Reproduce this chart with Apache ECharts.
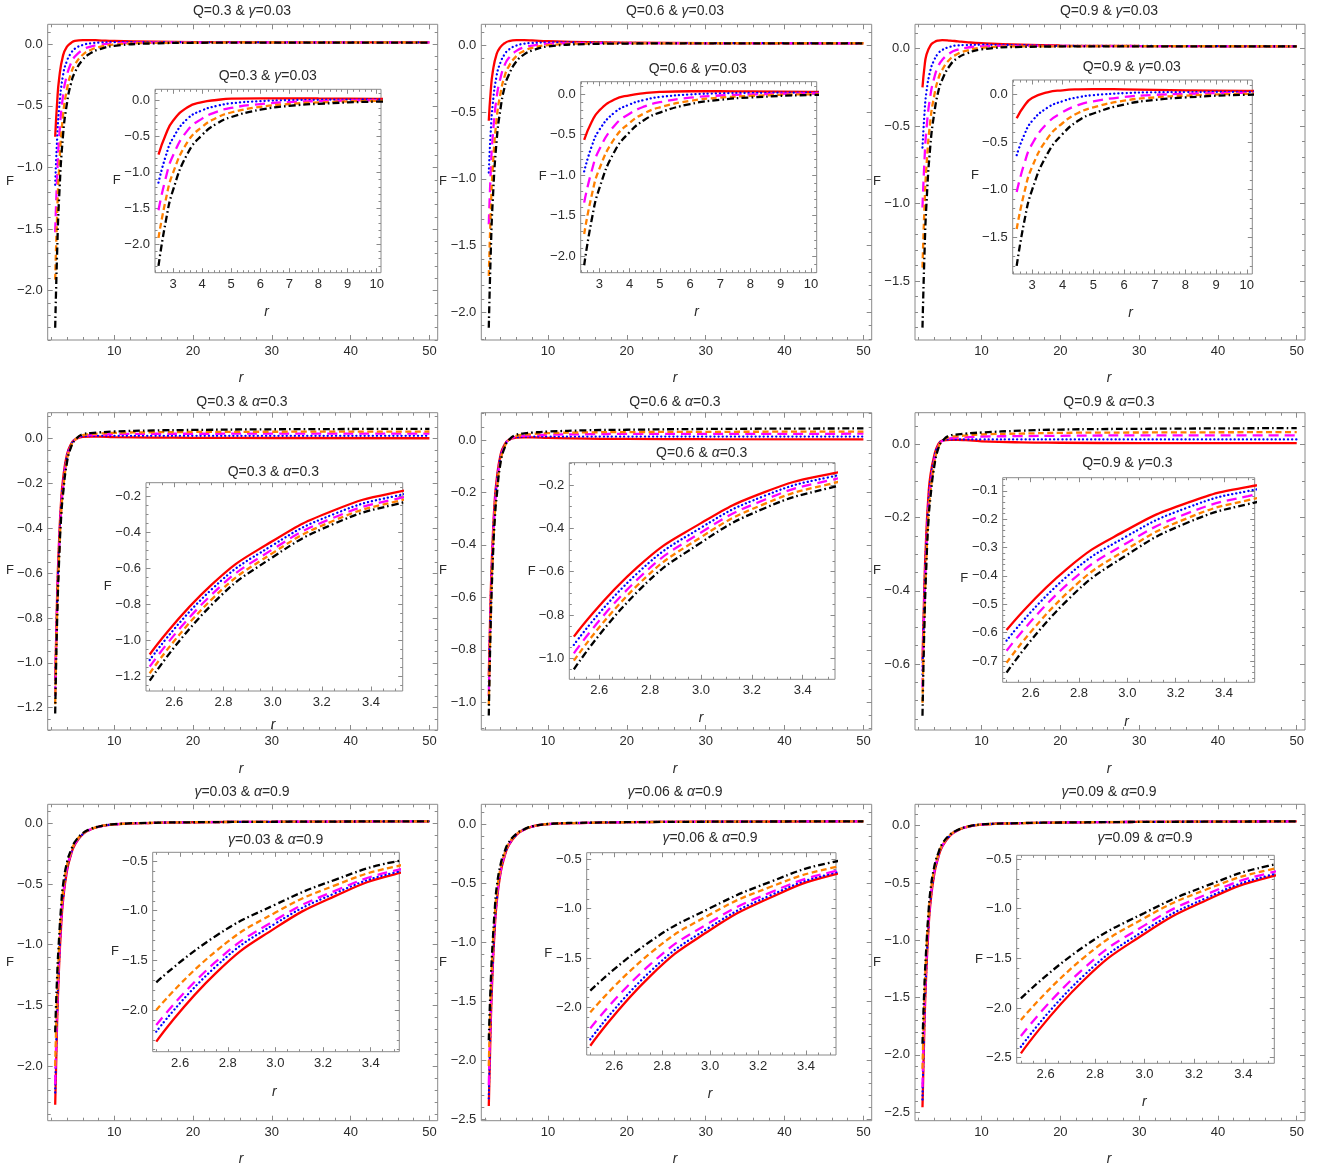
<!DOCTYPE html>
<html>
<head>
<meta charset="utf-8">
<script src="https://cdn.jsdelivr.net/npm/echarts@6/dist/echarts.min.js"></script>
<style>
  html, body { margin: 0; padding: 0; background: #ffffff; }
  #chart { width: 1325px; height: 1172px; }
</style>
</head>
<body>
<div id="chart"></div>
<script>
// ---- radial sample points ----
const rTop = [2.5, 2.75, 3, 3.5, 4, 4.5, 5, 6, 7, 8, 10, 15, 20, 30, 50];
const rLow = [2.5, 2.75, 3, 3.25, 3.5, 4, 4.5, 5, 6, 7, 8, 10, 15, 20, 30, 50];

// ---- Q=0.3 & γ=0.03 ----
const F11_red     = [-0.75, -0.47, -0.28, -0.09, -0.02, 0.01, 0.028, 0.034, 0.034, 0.032, 0.027, 0.021, 0.018, 0.016, 0.015];
const F11_blue    = [-1.14, -0.77, -0.52, -0.25, -0.134, -0.073, -0.036, -0.006, 0.008, 0.013, 0.017, 0.018, 0.016, 0.016, 0.015];
const F11_magenta = [-1.525, -1.075, -0.763, -0.413, -0.249, -0.155, -0.1, -0.046, -0.019, -0.006, 0.007, 0.014, 0.015, 0.015, 0.015];
const F11_orange  = [-1.91, -1.378, -1.004, -0.574, -0.363, -0.238, -0.164, -0.085, -0.046, -0.024, -0.003, 0.011, 0.013, 0.015, 0.015];
const F11_black   = [-2.30, -1.68, -1.245, -0.735, -0.477, -0.32, -0.228, -0.125, -0.072, -0.043, -0.013, 0.007, 0.012, 0.014, 0.014];

// ---- Q=0.6 & γ=0.03 ----
const F12_red     = [-0.565, -0.34, -0.2, -0.065, -0.012, 0.015, 0.03, 0.038, 0.038, 0.036, 0.031, 0.023, 0.019, 0.016, 0.015];
const F12_blue    = [-0.953, -0.643, -0.441, -0.226, -0.126, -0.068, -0.034, -0.002, 0.012, 0.017, 0.021, 0.02, 0.017, 0.016, 0.015];
const F12_magenta = [-1.34, -0.945, -0.683, -0.388, -0.241, -0.15, -0.098, -0.042, -0.015, -0.002, 0.011, 0.016, 0.016, 0.015, 0.015];
const F12_orange  = [-1.728, -1.248, -0.924, -0.549, -0.355, -0.233, -0.162, -0.081, -0.042, -0.02, 0.001, 0.013, 0.014, 0.015, 0.015];
const F12_black   = [-2.115, -1.55, -1.165, -0.71, -0.469, -0.315, -0.226, -0.121, -0.068, -0.039, -0.009, 0.009, 0.013, 0.014, 0.014];

// ---- Q=0.9 & γ=0.03 ----
const F13_red     = [-0.25, -0.12, -0.04, 0.02, 0.042, 0.052, 0.055, 0.052, 0.047, 0.042, 0.035, 0.025, 0.02, 0.017, 0.015];
const F13_blue    = [-0.638, -0.423, -0.281, -0.141, -0.072, -0.031, -0.009, 0.012, 0.021, 0.023, 0.025, 0.022, 0.018, 0.017, 0.015];
const F13_magenta = [-1.025, -0.725, -0.523, -0.303, -0.187, -0.113, -0.073, -0.028, -0.006, 0.005, 0.015, 0.018, 0.017, 0.016, 0.015];
const F13_orange  = [-1.413, -1.028, -0.764, -0.464, -0.301, -0.196, -0.137, -0.067, -0.033, -0.014, 0.005, 0.015, 0.015, 0.016, 0.015];
const F13_black   = [-1.80, -1.33, -1.005, -0.625, -0.415, -0.278, -0.201, -0.107, -0.059, -0.033, -0.005, 0.011, 0.014, 0.015, 0.014];

// ---- Q=0.3 & α=0.3 ----
const F21_red     = [-1.08, -0.695, -0.45, -0.279, -0.18, -0.07, -0.025, -0.004, 0.008, 0.009, 0.009, 0.007, 0.005, 0.004, 0.003, 0.002];
const F21_blue    = [-1.111, -0.721, -0.473, -0.30, -0.20, -0.078, -0.028, -0.004, 0.011, 0.012, 0.013, 0.013, 0.013, 0.013, 0.013, 0.013];
const F21_magenta = [-1.148, -0.75, -0.496, -0.319, -0.217, -0.087, -0.032, -0.005, 0.013, 0.016, 0.018, 0.02, 0.022, 0.022, 0.023, 0.023];
const F21_orange  = [-1.185, -0.777, -0.517, -0.336, -0.231, -0.095, -0.035, -0.006, 0.016, 0.02, 0.023, 0.026, 0.029, 0.03, 0.031, 0.032];
const F21_black   = [-1.226, -0.807, -0.54, -0.354, -0.246, -0.105, -0.039, -0.007, 0.02, 0.025, 0.028, 0.032, 0.037, 0.039, 0.042, 0.044];

// ---- Q=0.6 & α=0.3 ----
const F22_red     = [-0.90, -0.579, -0.376, -0.233, -0.151, -0.055, -0.018, 0.0, 0.009, 0.01, 0.01, 0.008, 0.005, 0.004, 0.003, 0.002];
const F22_blue    = [-0.938, -0.607, -0.397, -0.25, -0.165, -0.062, -0.021, -0.001, 0.011, 0.012, 0.013, 0.013, 0.013, 0.013, 0.013, 0.013];
const F22_magenta = [-0.977, -0.636, -0.419, -0.268, -0.18, -0.069, -0.024, -0.001, 0.013, 0.016, 0.018, 0.02, 0.022, 0.023, 0.023, 0.024];
const F22_orange  = [-1.011, -0.663, -0.441, -0.287, -0.197, -0.077, -0.027, -0.001, 0.016, 0.02, 0.023, 0.026, 0.029, 0.03, 0.031, 0.032];
const F22_black   = [-1.051, -0.693, -0.466, -0.307, -0.215, -0.085, -0.03, -0.002, 0.02, 0.025, 0.028, 0.032, 0.037, 0.039, 0.042, 0.044];

// ---- Q=0.9 & α=0.3 ----
const F23_red     = [-0.591, -0.375, -0.237, -0.142, -0.086, -0.03, 0.0, 0.01, 0.012, 0.012, 0.011, 0.008, 0.005, 0.004, 0.003, 0.003];
const F23_blue    = [-0.628, -0.402, -0.259, -0.159, -0.101, -0.037, -0.003, 0.009, 0.013, 0.013, 0.013, 0.013, 0.013, 0.013, 0.013, 0.013];
const F23_magenta = [-0.664, -0.431, -0.283, -0.179, -0.119, -0.045, -0.006, 0.009, 0.016, 0.018, 0.019, 0.021, 0.022, 0.023, 0.024, 0.024];
const F23_orange  = [-0.706, -0.461, -0.305, -0.196, -0.133, -0.052, -0.009, 0.008, 0.02, 0.022, 0.024, 0.027, 0.029, 0.031, 0.032, 0.033];
const F23_black   = [-0.741, -0.487, -0.325, -0.212, -0.147, -0.06, -0.012, 0.008, 0.024, 0.027, 0.029, 0.032, 0.037, 0.04, 0.042, 0.044];

// ---- γ=0.03 & α=0.9 ----
const F31_red     = [-2.319, -1.628, -1.173, -0.853, -0.634, -0.39, -0.26, -0.175, -0.09, -0.05, -0.028, -0.008, 0.004, 0.009, 0.013, 0.017];
const F31_blue    = [-2.218, -1.562, -1.129, -0.825, -0.617, -0.38, -0.255, -0.172, -0.089, -0.05, -0.028, -0.008, 0.004, 0.009, 0.013, 0.017];
const F31_magenta = [-2.151, -1.514, -1.094, -0.80, -0.597, -0.37, -0.249, -0.168, -0.087, -0.049, -0.028, -0.008, 0.004, 0.009, 0.013, 0.017];
const F31_orange  = [-2.0, -1.408, -1.019, -0.745, -0.557, -0.348, -0.237, -0.161, -0.084, -0.048, -0.027, -0.008, 0.004, 0.009, 0.013, 0.017];
const F31_black   = [-1.721, -1.254, -0.938, -0.689, -0.507, -0.32, -0.222, -0.153, -0.081, -0.046, -0.026, -0.007, 0.005, 0.009, 0.013, 0.017];

// ---- γ=0.06 & α=0.9 ----
const F32_red     = [-2.389, -1.683, -1.217, -0.89, -0.666, -0.41, -0.272, -0.182, -0.09, -0.045, -0.019, 0.002, 0.013, 0.018, 0.022, 0.026];
const F32_blue    = [-2.324, -1.637, -1.185, -0.867, -0.649, -0.40, -0.267, -0.179, -0.089, -0.045, -0.019, 0.002, 0.013, 0.018, 0.022, 0.026];
const F32_magenta = [-2.213, -1.565, -1.138, -0.838, -0.632, -0.39, -0.261, -0.175, -0.087, -0.044, -0.018, 0.002, 0.013, 0.018, 0.022, 0.026];
const F32_orange  = [-2.051, -1.452, -1.058, -0.781, -0.591, -0.367, -0.248, -0.168, -0.084, -0.043, -0.018, 0.003, 0.013, 0.018, 0.022, 0.026];
const F32_black   = [-1.831, -1.332, -0.994, -0.729, -0.534, -0.338, -0.232, -0.158, -0.08, -0.041, -0.017, 0.003, 0.014, 0.018, 0.022, 0.026];

// ---- γ=0.09 & α=0.9 ----
const F33_red     = [-2.456, -1.73, -1.252, -0.915, -0.685, -0.42, -0.278, -0.183, -0.087, -0.04, -0.013, 0.01, 0.022, 0.028, 0.033, 0.038];
const F33_blue    = [-2.389, -1.683, -1.219, -0.892, -0.668, -0.41, -0.272, -0.18, -0.086, -0.04, -0.013, 0.01, 0.022, 0.028, 0.033, 0.038];
const F33_magenta = [-2.282, -1.61, -1.168, -0.857, -0.644, -0.398, -0.265, -0.176, -0.084, -0.039, -0.013, 0.01, 0.022, 0.028, 0.033, 0.038];
const F33_orange  = [-2.121, -1.502, -1.094, -0.807, -0.611, -0.38, -0.254, -0.169, -0.081, -0.038, -0.012, 0.01, 0.022, 0.028, 0.033, 0.038];
const F33_black   = [-1.903, -1.39, -1.043, -0.77, -0.57, -0.356, -0.24, -0.16, -0.077, -0.036, -0.011, 0.011, 0.023, 0.028, 0.033, 0.038];

// ---- tick label values ----
const mainXTicks   = [10, 20, 30, 40, 50];
const insetXTicksA = [3, 4, 5, 6, 7, 8, 9, 10];
const insetXTicksB = [2.6, 2.8, 3.0, 3.2, 3.4];
const yTicksHalf25 = [-2.5, -2.0, -1.5, -1.0, -0.5, 0.0];
const yTicksHalf20 = [-2.0, -1.5, -1.0, -0.5, 0.0];
const yTicksHalf15 = [-1.5, -1.0, -0.5, 0.0];
const yTicks12     = [-1.2, -1.0, -0.8, -0.6, -0.4, -0.2, 0.0];
const yTicks10     = [-1.0, -0.8, -0.6, -0.4, -0.2, 0.0];
const yTicks06     = [-0.6, -0.4, -0.2, 0.0];
const yTicksIn21   = [-1.2, -1.0, -0.8, -0.6, -0.4, -0.2];
const yTicksIn22   = [-1.0, -0.8, -0.6, -0.4, -0.2];
const yTicksIn23   = [-0.7, -0.6, -0.5, -0.4, -0.3, -0.2, -0.1];
const yTicksIn3    = [-2.0, -1.5, -1.0, -0.5];
const yTicksIn33   = [-2.5, -2.0, -1.5, -1.0, -0.5];

const FONT = "'Liberation Sans', Arial, sans-serif";
const FRAME = '#8a8a8a';
const TEXT = '#2a2a2a';

const curveStyles = [
  { color: '#ff0000', width: 2.3, type: 'solid' },
  { color: '#0000ff', width: 2.3, type: [0.1, 4], cap: 'round' },
  { color: '#ff00ff', width: 2.3, type: [10, 6] },
  { color: '#ff8000', width: 2.3, type: [6, 3.5] },
  { color: '#000000', width: 2.3, type: [7, 3, 1.6, 3] }
];

// panel layout: frame boxes [left, top, right, bottom], axis ranges and tick sets
const panels = [
  { title: 'Q=0.3 & γ=0.03', inTitle: 'Q=0.3 & γ=0.03', r: rTop,
    curves: [F11_red, F11_blue, F11_magenta, F11_orange, F11_black],
    main: { box: [47.7, 24.3, 437.7, 340], y: [-2.40, 0.162], yt: yTicksHalf20, ym: 0.1,
            title: [242, 11], F: [10, 181], rl: [241, 378] },
    inset: { box: [155, 89.3, 381, 272.7], x: [2.38, 10.15], xt: insetXTicksA, xm: 0.2,
             y: [-2.395, 0.159], yt: yTicksHalf20, ym: 0.1,
             title: [267.7, 76], F: [116.7, 180], rl: [266.7, 312] } },
  { title: 'Q=0.6 & γ=0.03', inTitle: 'Q=0.6 & γ=0.03', r: rTop,
    curves: [F12_red, F12_blue, F12_magenta, F12_orange, F12_black],
    main: { box: [481.3, 24.3, 871.7, 340], y: [-2.207, 0.157], yt: yTicksHalf20, ym: 0.1,
            title: [675, 11], F: [443, 181], rl: [675, 378] },
    inset: { box: [580.7, 81.7, 816.7, 272.7], x: [2.385, 10.19], xt: insetXTicksA, xm: 0.2,
             y: [-2.207, 0.156], yt: yTicksHalf20, ym: 0.1,
             title: [697.7, 69], F: [542.7, 176], rl: [696.7, 312] } },
  { title: 'Q=0.9 & γ=0.03', inTitle: 'Q=0.9 & γ=0.03', r: rTop,
    curves: [F13_red, F13_blue, F13_magenta, F13_orange, F13_black],
    main: { box: [915, 24.3, 1305, 340], y: [-1.88, 0.157], yt: yTicksHalf15, ym: 0.1,
            title: [1109, 11], F: [877, 181], rl: [1109, 378] },
    inset: { box: [1012.7, 80, 1252.3, 274], x: [2.37, 10.18], xt: insetXTicksA, xm: 0.2,
             y: [-1.885, 0.15], yt: yTicksHalf15, ym: 0.1,
             title: [1131.7, 66.7], F: [975, 175.7], rl: [1130.7, 313] } },
  { title: 'Q=0.3 & α=0.3', inTitle: 'Q=0.3 & α=0.3', r: rLow,
    curves: [F21_red, F21_blue, F21_magenta, F21_orange, F21_black],
    main: { box: [47.7, 412.7, 437.7, 730], y: [-1.30, 0.116], yt: yTicks12, ym: 0.05,
            title: [242, 401.7], F: [10, 570], rl: [241, 769] },
    inset: { box: [146, 482.7, 402.7, 691], x: [2.485, 3.529], xt: insetXTicksB, xm: 0.05,
             y: [-1.283, -0.126], yt: yTicksIn21, ym: 0.05,
             title: [273.3, 471.7], F: [107.7, 586], rl: [273, 725] } },
  { title: 'Q=0.6 & α=0.3', inTitle: 'Q=0.6 & α=0.3', r: rLow,
    curves: [F22_red, F22_blue, F22_magenta, F22_orange, F22_black],
    main: { box: [481.3, 412.7, 871.7, 730], y: [-1.106, 0.104], yt: yTicks10, ym: 0.05,
            title: [675, 401.7], F: [443, 570], rl: [675, 769] },
    inset: { box: [569.3, 462.7, 835, 679.3], x: [2.482, 3.527], xt: insetXTicksB, xm: 0.05,
             y: [-1.097, -0.097], yt: yTicksIn22, ym: 0.05,
             title: [701.7, 452.7], F: [531.7, 571], rl: [701, 718] } },
  { title: 'Q=0.9 & α=0.3', inTitle: 'Q=0.9 & γ=0.3', r: rLow,
    curves: [F23_red, F23_blue, F23_magenta, F23_orange, F23_black],
    main: { box: [915, 412.7, 1305, 730], y: [-0.780, 0.086], yt: yTicks06, ym: 0.05,
            title: [1109, 401.7], F: [877, 570], rl: [1109, 769] },
    inset: { box: [1002.7, 477.7, 1254.7, 682.3], x: [2.484, 3.527], xt: insetXTicksB, xm: 0.05,
             y: [-0.775, -0.054], yt: yTicksIn23, ym: 0.02,
             title: [1127.3, 463.3], F: [964.3, 578.3], rl: [1126.7, 721.7] } },
  { title: 'γ=0.03 & α=0.9', inTitle: 'γ=0.03 & α=0.9', r: rLow,
    curves: [F31_red, F31_blue, F31_magenta, F31_orange, F31_black],
    main: { box: [47.7, 804.3, 437.7, 1120.7], y: [-2.45, 0.157], yt: yTicksHalf20, ym: 0.1,
            title: [242, 791.7], F: [10, 962], rl: [241, 1159] },
    inset: { box: [152.7, 852.3, 399.3, 1051.7], x: [2.485, 3.52], xt: insetXTicksB, xm: 0.05,
             y: [-2.42, -0.412], yt: yTicksIn3, ym: 0.1,
             title: [275.7, 840], F: [115, 951.7], rl: [274.3, 1091.7] } },
  { title: 'γ=0.06 & α=0.9', inTitle: 'γ=0.06 & α=0.9', r: rLow,
    curves: [F32_red, F32_blue, F32_magenta, F32_orange, F32_black],
    main: { box: [481.3, 804.3, 871.7, 1120.7], y: [-2.514, 0.17], yt: yTicksHalf25, ym: 0.1,
            title: [675, 791.7], F: [443, 962], rl: [675, 1159] },
    inset: { box: [586.7, 852.7, 836, 1055], x: [2.485, 3.525], xt: insetXTicksB, xm: 0.05,
             y: [-2.483, -0.433], yt: yTicksIn3, ym: 0.1,
             title: [710, 838.3], F: [548.3, 953.3], rl: [710, 1094.3] } },
  { title: 'γ=0.09 & α=0.9', inTitle: 'γ=0.09 & α=0.9', r: rLow,
    curves: [F33_red, F33_blue, F33_magenta, F33_orange, F33_black],
    main: { box: [915, 804.3, 1305, 1120.7], y: [-2.574, 0.187], yt: yTicksHalf25, ym: 0.1,
            title: [1109, 791.7], F: [877, 962], rl: [1109, 1159] },
    inset: { box: [1016.7, 855.3, 1274.3, 1063.3], x: [2.483, 3.525], xt: insetXTicksB, xm: 0.05,
             y: [-2.556, -0.463], yt: yTicksIn33, ym: 0.1,
             title: [1145, 838.3], F: [979, 959], rl: [1144.3, 1102.3] } }
];

const MAIN_X = [1.55, 51.05];

function minorTicks(lo, hi, step, majors) {
  const out = [];
  const k0 = Math.ceil(lo / step - 1e-9), k1 = Math.floor(hi / step + 1e-9);
  for (let k = k0; k <= k1; k++) {
    const v = +(k * step).toFixed(6);
    if (!majors.some(m => Math.abs(m - v) < 1e-6)) out.push(v);
  }
  return out;
}

function fmtNum(decimals) {
  return v => {
    const s = Math.abs(v).toFixed(decimals);
    return (v < -1e-9 ? '\u2212' : '') + s;
  };
}

const grids = [], xAxes = [], yAxes = [], series = [], graphics = [];

function addFrame(box, xr, xt, xm, xDec, yr, yt, ym, majLen, minLen, fs) {
  const gi = grids.length;
  grids.push({
    left: box[0], top: box[1], width: box[2] - box[0], height: box[3] - box[1],
    show: true, borderColor: FRAME, borderWidth: 1, backgroundColor: '#ffffff',
    containLabel: false, outerBoundsMode: 'none'
  });
  const xMinor = minorTicks(xr[0], xr[1], xm, xt);
  const yMinor = minorTicks(yr[0], yr[1], ym, yt);
  const mk = (pos, range, values, len, labelValues, fmt) => ({
    gridIndex: gi, type: 'value', position: pos, min: range[0], max: range[1],
    axisLine: { show: false, onZero: false },
    splitLine: { show: false },
    axisTick: { show: true, inside: true, length: len, customValues: values,
                lineStyle: { color: FRAME, width: 1 } },
    axisLabel: labelValues ? {
      show: true, customValues: labelValues, formatter: fmt,
      fontSize: fs, fontFamily: FONT, color: TEXT, margin: 5
    } : { show: false }
  });
  const xi = xAxes.length, yi = yAxes.length;
  xAxes.push(mk('bottom', xr, xt, majLen, xt, fmtNum(xDec)));
  xAxes.push(mk('bottom', xr, xMinor, minLen));
  xAxes.push(mk('top', xr, xt, majLen));
  xAxes.push(mk('top', xr, xMinor, minLen));
  yAxes.push(mk('left', yr, yt, majLen, yt, fmtNum(1)));
  yAxes.push(mk('left', yr, yMinor, minLen));
  yAxes.push(mk('right', yr, yt, majLen));
  yAxes.push(mk('right', yr, yMinor, minLen));
  return { xi, yi };
}

function addCurves(ax, r, curves) {
  curves.forEach((F, k) => {
    series.push({
      type: 'line', xAxisIndex: ax.xi, yAxisIndex: ax.yi,
      data: r.map((x, i) => [x, F[i]]),
      showSymbol: false, symbol: 'none', smooth: 0.5,
      clip: true, silent: true, animation: false,
      lineStyle: Object.assign({}, curveStyles[k]),
      z: 3
    });
  });
}

function richLabel(s) {
  return s.replace(/([γα])/g, '{g|$1}');
}

function addText(pos, text, size, italic) {
  graphics.push({
    type: 'text', x: pos[0], y: pos[1], z: 100, silent: true,
    style: {
      text: text,
      fill: TEXT,
      font: (italic ? 'italic ' : '') + size + 'px ' + FONT,
      align: 'center', verticalAlign: 'middle',
      rich: { g: { fontStyle: 'italic', fontSize: size, fontFamily: FONT, fill: TEXT } }
    }
  });
}

panels.forEach(p => {
  const m = p.main, s = p.inset;
  const mainAx = addFrame(m.box, MAIN_X, mainXTicks, 2, 0, m.y, m.yt, m.ym, 5, 3, 13);
  addCurves(mainAx, p.r, p.curves);
  const xDec = s.xt === insetXTicksB ? 1 : 0;
  const inAx = addFrame(s.box, s.x, s.xt, s.xm, xDec, s.y, s.yt, s.ym, 4.5, 2.5, 13);
  addCurves(inAx, p.r, p.curves);

  addText(m.title, richLabel(p.title), 14, false);
  addText(m.F, 'F', 13, false);
  addText(m.rl, 'r', 14, true);
  addText(s.title, richLabel(p.inTitle), 14, false);
  addText(s.F, 'F', 13, false);
  addText(s.rl, 'r', 14, true);
});

const chart = echarts.init(document.getElementById('chart'), null, { renderer: 'canvas' });
chart.setOption({
  backgroundColor: '#ffffff',
  animation: false,
  grid: grids,
  xAxis: xAxes,
  yAxis: yAxes,
  series: series,
  graphic: graphics
});
</script>
</body>
</html>
